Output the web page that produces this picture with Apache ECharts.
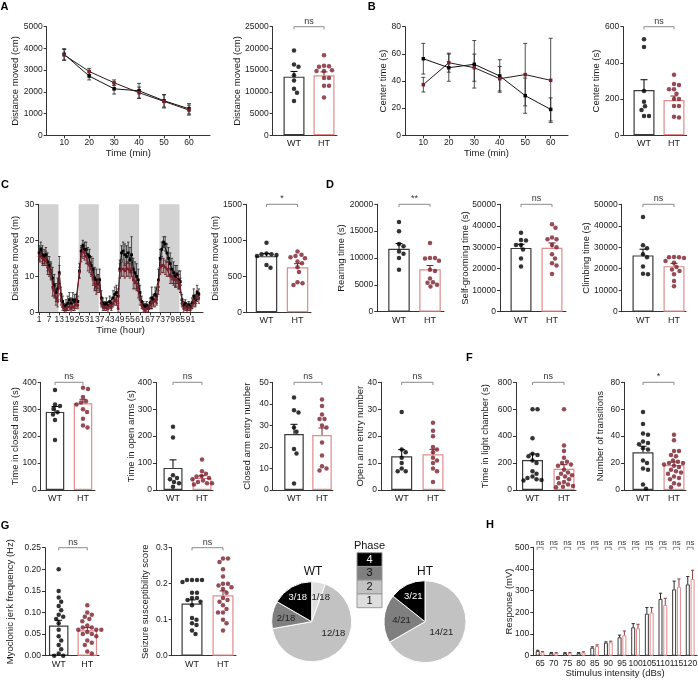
<!DOCTYPE html>
<html>
<head>
<meta charset="utf-8">
<script src="https://cdn.jsdelivr.net/npm/echarts@6/dist/echarts.min.js"></script>
<style>
html, body { margin: 0; padding: 0; background: #fff; }
#main { width: 698px; height: 680px; }
</style>
</head>
<body>
<div id="main"></div>
<script>
var FONT = '"Liberation Sans", Arial, sans-serif';
var WT_DOT = '#000000', HT_DOT = '#7b1f2c';
var WT_EDGE = '#3a3a3a', HT_EDGE = '#e08c8c';
var AXIS = '#333333', TEXT = '#1a1a1a', BRACKET = '#8a8a8a';
var groups = ['WT', 'HT'];

// A - open field, distance per 10 min
var timeMin = [10, 20, 30, 40, 50, 60];
var aLineWT = [3730, 2730, 2140, 2050, 1590, 1220];
var aLineHT = [3700, 2940, 2420, 1960, 1560, 1160];
var aLineWTErr = [260, 180, 240, 340, 290, 240];
var aLineHTErr = [250, 140, 130, 260, 300, 230];
var aBarWT = [19500, 16300, 15800, 13800, 12600, 10700, 9800, 7900];
var aBarHT = [18400, 16000, 15900, 15800, 15000, 14800, 14800, 13200, 13200, 11400, 11400, 8700];
var aBarMean = [13500, 13800];
var aBarSem = [1200, 800];

// B - center time
var bLineWT = [56.4, 49.8, 52.3, 43.7, 29.2, 19.1];
var bLineHT = [37.3, 53.5, 49.8, 41.7, 44.7, 40.5];
var bLineWTErr = [11.3, 10, 17.5, 12, 13, 8.5];
var bLineHTErr = [5.4, 7, 10, 9, 23, 31];
var bBarWT = [530, 488, 245, 186, 160, 140, 107, 107];
var bBarHT = [335, 283, 278, 254, 254, 230, 200, 200, 162, 162, 103, 99];
var bBarMean = [250, 195];
var bBarSem = [57, 22];

// C - home cage activity, hourly
var cHourTicks = [1, 7, 13, 19, 25, 31, 37, 43, 49, 55, 61, 67, 73, 79, 85, 91];
var cDarkPhases = [[0.5, 12.5], [24.5, 36.5], [48.5, 60.5], [72.5, 84.5]];
var cWT = [16.5, 17.5, 16, 15.5, 16, 14, 13, 11.5, 9.5, 7.5, 5.5, 6.5,
  11, 5, 3, 1.5, 2, 2.5, 3.5, 2.5, 3.5, 3, 3.5, 3,
  11.5, 17, 18.5, 17.5, 17.5, 16, 15.5, 13, 12, 9.5, 9, 8,
  9, 4, 2.5, 2, 2.5, 2, 3, 2.5, 4, 5, 5.5, 4.5,
  12, 16.5, 17, 16, 15.5, 16.5, 14.5, 16, 12, 11, 10, 9,
  5.5, 3, 2, 1.5, 2, 1, 2.5, 4, 3.5, 5, 4.5, 9,
  15, 17.5, 19.5, 19, 16.5, 15, 13.5, 12, 11, 10, 10.5, 9,
  8.5, 3.5, 2, 2.5, 1.5, 2, 1.5, 2.5, 4.5, 3.5, 5.5, 5];
var cHT = [15.5, 16, 15, 14.5, 15, 12.5, 12, 11.5, 7, 6, 4, 3,
  10.5, 3.5, 1.5, 1, 1, 1.5, 1.5, 1, 1.5, 1.5, 2, 2,
  11, 16, 17, 16.5, 15.5, 13.5, 13, 12, 9.5, 8, 7, 8.5,
  7.5, 2.5, 1.5, 1.5, 1.5, 1, 2, 1.5, 2.5, 3.5, 3, 1,
  11.5, 12, 12, 11.5, 12, 12, 11.5, 12, 9, 8.5, 8, 6,
  3.5, 2, 1, 0.5, 1, 1, 2, 2.5, 3, 3, 3.5, 7,
  12.5, 13, 13, 12.5, 12, 12, 10, 10, 9.5, 9, 9, 8.5,
  7.5, 2.5, 1, 1.5, 1, 1.5, 1, 2, 3, 2.5, 4.5, 4];
var cWTErr = [2, 2, 2.5, 2, 2, 2.5, 2.5, 2.5, 3, 3, 2.5, 3,
  4.5, 2, 1.5, 1, 1.5, 2, 2, 1.5, 2, 2, 1.5, 1.5,
  2, 1.5, 1.5, 2, 2, 2, 2, 2.5, 3, 3, 3, 2.5,
  3, 2, 1.5, 1, 1.5, 1, 1.5, 1.5, 2, 2, 2, 2,
  2.5, 2, 2.5, 3, 3, 3, 3.5, 5, 3, 3, 3.5, 3,
  2, 1.5, 1, 1, 1, 1, 1.5, 3, 1.5, 2, 2, 3,
  2.5, 2, 1.5, 2, 2.5, 3, 3, 3, 3, 3, 2.5, 2.5,
  3, 1.5, 1, 1, 1, 1, 1, 1.5, 2, 1.5, 2, 1.5];
var cHTErr = [1.5, 2, 2, 1.5, 2, 2, 2, 2, 2.5, 2, 2, 1.5,
  2.5, 1.5, 1, 1, 1, 1, 1, 1, 1, 1, 1, 1,
  1.5, 2, 2, 2, 2, 2, 2, 2, 2, 2, 2, 2,
  2, 1, 1, 1, 1, 1, 1, 1, 1, 1.5, 1, 1,
  2, 2, 2, 2, 2, 2, 2, 2, 2.5, 2, 2, 2,
  1.5, 1, 1, 0.5, 1, 1, 1, 1.5, 1.5, 1.5, 1.5, 2,
  2, 2, 2, 2, 2, 2, 2, 2, 2, 2, 2, 2,
  2, 1, 1, 1, 1, 1, 1, 1, 1.5, 1, 1.5, 1.5];
var cBarWT = [965, 815, 806, 806, 796, 782, 657, 620];
var cBarHT = [843, 800, 782, 764, 750, 705, 680, 625, 560, 417, 403, 380];
var cBarMean = [780, 625];
var cBarSem = [35, 50];

// D - rearing, self-grooming, climbing
var dRearWT = [16700, 15000, 12600, 12200, 11200, 10800, 10000, 7800];
var dRearHT = [12800, 10000, 10000, 9900, 9500, 7800, 7600, 6200, 5500, 5400, 5000, 4700];
var dRearMean = [11700, 7900];
var dRearSem = [1000, 700];
var dGroomWT = [36800, 33400, 33100, 31100, 31100, 29000, 24800, 21000];
var dGroomHT = [40700, 39100, 34600, 33700, 33700, 31000, 30000, 26700, 24800, 22500, 21500, 17500];
var dGroomMean = [29700, 29800];
var dGroomSem = [1700, 2200];
var dClimbWT = [44100, 30900, 29500, 26700, 25300, 21000, 17700, 17400];
var dClimbHT = [25500, 25300, 25300, 25000, 23600, 22800, 20800, 19700, 19000, 17400, 14300, 11800];
var dClimbMean = [26200, 21200];
var dClimbSem = [2900, 1300];

// E - elevated plus maze
var eClosedWT = [371, 318, 312, 301, 289, 280, 260, 186];
var eClosedHT = [380, 375, 345, 330, 325, 318, 300, 290, 265, 240, 232];
var eClosedMean = [290, 322];
var eClosedSem = [20, 15];
var eOpenWT = [235, 195, 55, 45, 40, 30, 25, 12];
var eOpenHT = [113, 70, 60, 52, 50, 45, 40, 35, 30, 25, 25, 20];
var eOpenMean = [82, 45];
var eOpenSem = [30, 8];
var eClosedEntWT = [43, 37, 36, 29, 27, 19, 17, 3];
var eClosedEntHT = [42, 39, 35, 33, 33, 30, 29, 22, 16, 11, 10, 9];
var eClosedEntMean = [26, 25.5];
var eClosedEntSem = [4.5, 3.3];
var eOpenEntWT = [29, 15, 14, 12, 10, 8, 7, 7];
var eOpenEntHT = [25, 22, 20, 16, 15, 14, 12, 11, 10, 8, 7, 3];
var eOpenEntMean = [12.5, 13.3];
var eOpenEntSem = [2.5, 1.8];

// F - light/dark box
var fLightWT = [600, 600, 385, 270, 260, 250, 220, 200, 140, 120, 100, 90, 80, 75, 70];
var fLightHT = [600, 330, 290, 240, 210, 200, 190, 180, 150, 130, 120, 110, 100, 90, 80, 60, 50, 40, 30, 25, 20];
var fLightMean = [222, 158];
var fLightSem = [45, 30];
var fTransWT = [58, 49, 42, 41, 36, 35, 34, 31, 30, 22, 20, 16, 15, 4, 1];
var fTransHT = [41, 37, 29, 29, 26, 25, 22, 21, 20, 20, 19, 18, 17, 15, 14, 13, 12, 10, 9, 8, 5, 4, 2];
var fTransMean = [28, 18.5];
var fTransSem = [4.5, 2.3];

// G - seizures
var gJerkWT = [0.20, 0.15, 0.135, 0.125, 0.115, 0.105, 0.095, 0.09, 0.085, 0.075, 0.06, 0.045, 0.035, 0.025, 0.015, 0.005, 0, 0];
var gJerkHT = [0.117, 0.1, 0.095, 0.09, 0.085, 0.08, 0.07, 0.065, 0.065, 0.06, 0.06, 0.06, 0.055, 0.05, 0.05, 0.045, 0.035, 0.03, 0.025, 0.01, 0.005];
var gJerkMean = [0.07, 0.059];
var gJerkSem = [0.012, 0.006];
var gScoreWT = [0.21, 0.21, 0.21, 0.21, 0.205, 0.175, 0.175, 0.16, 0.16, 0.155, 0.15, 0.14, 0.105, 0.1, 0.09, 0.085, 0.07, 0.06];
var gScoreHT = [0.27, 0.27, 0.26, 0.24, 0.22, 0.2, 0.2, 0.195, 0.19, 0.185, 0.175, 0.16, 0.155, 0.15, 0.14, 0.13, 0.12, 0.12, 0.1, 0.09, 0.07];
var gScoreMean = [0.145, 0.168];
var gScoreSem = [0.01, 0.012];
var phaseNames = ['1', '2', '3', '4'];
var wtPhaseCounts = [1, 12, 2, 3];
var htPhaseCounts = [0, 14, 4, 3];

// H - acoustic startle
var hIntensity = ['65', '70', '75', '80', '85', '90', '95', '100', '105', '110', '115', '120'];
var hWT = [22, 13, 12, 13, 37, 60, 85, 131, 194, 262, 306, 329];
var hHT = [16, 12, 13, 15, 45, 62, 94, 126, 200, 234, 318, 354];
var hWTErr = [3, 2, 2, 2, 4, 4, 10, 17, 28, 26, 38, 36];
var hHTErr = [3, 2, 2, 3, 5, 5, 20, 19, 22, 31, 36, 40];

var phaseColors = ['#dedede', '#c2c2c2', '#7f7f7f', '#000000'];

var grids = [], xAxes = [], yAxes = [], series = [];

function addGrid(box) {
    grids.push({left: box[0], top: box[1], width: box[2] - box[0], height: box[3] - box[1],
        outerBoundsMode: 'none', containLabel: false});
    return grids.length - 1;
}

function addYAxis(gi, max, step, name, gap, digits) {
    yAxes.push({
        gridIndex: gi, type: 'value', min: 0, max: max, interval: step,
        name: name, nameLocation: 'middle', nameGap: gap, nameMoveOverlap: false,
        nameTextStyle: {fontFamily: FONT, fontSize: 9.5, color: TEXT},
        axisLine: {show: true, onZero: false, lineStyle: {color: AXIS, width: 1}},
        axisTick: {show: true, length: 3, lineStyle: {color: AXIS}},
        axisLabel: {fontFamily: FONT, fontSize: 8.5, color: TEXT, margin: 4,
            formatter: function (v) { return digits == null ? String(v) : v.toFixed(digits); }},
        splitLine: {show: false}
    });
    return yAxes.length - 1;
}

// simple beeswarm so dots with close values spread sideways (px offsets)
function swarm(values, pxPerVal, diam) {
    var order = values.map(function (v, i) { return i; })
        .sort(function (a, b) { return values[b] - values[a]; });
    var placed = [], offs = [];
    order.forEach(function (i) {
        var y = values[i] * pxPerVal;
        for (var k = 0; k < 400; k++) {
            var off = (k % 2 ? 1 : -1) * Math.ceil(k / 2) * 0.5;
            var ok = placed.every(function (p) {
                var dx = p[0] - off, dy = p[1] - y;
                return dx * dx + dy * dy >= diam * diam;
            });
            if (ok) { offs[i] = off; placed.push([off, y]); break; }
        }
    });
    return offs;
}

function bracketSeries(xi, yi, pairs, label, half, fontSize) {
    return {
        type: 'custom', xAxisIndex: xi, yAxisIndex: yi, silent: true, z: 5,
        data: pairs,
        renderItem: function (params, api) {
            var p0 = api.coord([api.value(0), api.value(2)]);
            var p1 = api.coord([api.value(1), api.value(2)]);
            var x0 = p0[0] - half, x1 = p1[0] + half, y = p0[1];
            return {type: 'group', children: [
                {type: 'polyline', shape: {points: [[x0, y + 2.7], [x0, y], [x1, y], [x1, y + 2.7]]},
                    style: {stroke: BRACKET, fill: null, lineWidth: 1}},
                {type: 'text', style: {text: label, x: (x0 + x1) / 2, y: y - 1, textAlign: 'center',
                    textVerticalAlign: 'bottom', font: fontSize + 'px ' + FONT, fill: '#333'}}
            ]};
        }
    };
}

function addDotPanel(p) {
    var gi = addGrid(p.box);
    var unit = p.c[1] - p.c[0];
    xAxes.push({
        gridIndex: gi, type: 'value',
        min: -(p.c[0] - p.box[0]) / unit, max: 1 + (p.box[2] - p.c[1]) / unit,
        axisLine: {show: true, onZero: false, lineStyle: {color: AXIS}},
        axisTick: {show: false}, splitLine: {show: false},
        axisLabel: {customValues: [0, 1], fontFamily: FONT, fontSize: 9, color: TEXT, margin: 4,
            formatter: function (v) { return groups[Math.round(v)]; }}
    });
    var xi = xAxes.length - 1;
    var yi = addYAxis(gi, p.max, p.step, p.name, p.gap, p.digits);
    var pxPerVal = (p.box[3] - p.box[1]) / p.max;

    series.push({
        type: 'bar', xAxisIndex: xi, yAxisIndex: yi, barWidth: p.bw, silent: true, z: 1,
        itemStyle: {color: '#ffffff', borderWidth: 1.2},
        data: [{value: [0, p.mean[0]], itemStyle: {borderColor: WT_EDGE}},
               {value: [1, p.mean[1]], itemStyle: {borderColor: HT_EDGE}}]
    });
    series.push({
        type: 'custom', xAxisIndex: xi, yAxisIndex: yi, silent: true, z: 3,
        data: [[0, p.mean[0], p.sem[0]], [1, p.mean[1], p.sem[1]]],
        renderItem: function (params, api) {
            var col = params.dataIndex ? HT_DOT : WT_DOT;
            var top = api.coord([api.value(0), api.value(1) + api.value(2)]);
            var base = api.coord([api.value(0), api.value(1)]);
            return {type: 'group', children: [
                {type: 'line', shape: {x1: top[0], y1: top[1], x2: base[0], y2: base[1]}, style: {stroke: col, lineWidth: 1}},
                {type: 'line', shape: {x1: top[0] - 3.5, y1: top[1], x2: top[0] + 3.5, y2: top[1]}, style: {stroke: col, lineWidth: 1}}
            ]};
        }
    });
    [p.wt, p.ht].forEach(function (vals, g) {
        var offs = swarm(vals, pxPerVal, 4.8);
        series.push({
            type: 'scatter', xAxisIndex: xi, yAxisIndex: yi, silent: true, z: 4,
            symbol: 'circle', symbolSize: 4.5,
            itemStyle: {color: g ? HT_DOT : WT_DOT},
            data: vals.map(function (v, i) { return {value: [g, v], symbolOffset: [offs[i], 0]}; })
        });
    });
    series.push(bracketSeries(xi, yi, [[0, 1, p.max]], p.sig, 0, 9));
}

function errSeries(xi, yi, data, color, cap, z) {
    return {
        type: 'custom', xAxisIndex: xi, yAxisIndex: yi, silent: true, z: z,
        data: data,
        renderItem: function (params, api) {
            var x = api.value(0), m = api.value(1), e = api.value(2);
            var top = api.coord([x, m + e]);
            var bot = api.coord([x, Math.max(0, m - e)]);
            return {type: 'group', children: [
                {type: 'line', shape: {x1: top[0], y1: top[1], x2: bot[0], y2: bot[1]}, style: {stroke: color, lineWidth: 0.8}},
                {type: 'line', shape: {x1: top[0] - cap, y1: top[1], x2: top[0] + cap, y2: top[1]}, style: {stroke: color, lineWidth: 0.8}},
                {type: 'line', shape: {x1: bot[0] - cap, y1: bot[1], x2: bot[0] + cap, y2: bot[1]}, style: {stroke: color, lineWidth: 0.8}}
            ]};
        }
    };
}

function addLinePanel(p) {
    var gi = addGrid(p.box);
    xAxes.push({
        gridIndex: gi, type: 'value', min: p.xmin, max: p.xmax,
        name: p.xname, nameLocation: 'middle', nameGap: p.xgap, nameMoveOverlap: false,
        nameTextStyle: {fontFamily: FONT, fontSize: 9.5, color: TEXT},
        axisLine: {show: true, onZero: false, lineStyle: {color: AXIS}},
        axisTick: {show: true, length: 3, customValues: p.ticks, lineStyle: {color: AXIS}},
        axisLabel: {customValues: p.ticks, fontFamily: FONT, fontSize: 8.5, color: TEXT, margin: 3},
        splitLine: {show: false}
    });
    var xi = xAxes.length - 1;
    var yi = addYAxis(gi, p.max, p.step, p.name, p.gap);
    if (p.bands) {
        series.push({
            type: 'custom', xAxisIndex: xi, yAxisIndex: yi, silent: true, z: 0,
            data: p.bands,
            renderItem: function (params, api) {
                var a = api.coord([api.value(0), p.max]);
                var b = api.coord([api.value(1), 0]);
                return {type: 'rect', shape: {x: a[0], y: a[1], width: b[0] - a[0], height: b[1] - a[1]},
                    style: {fill: '#d2d2d2'}};
            }
        });
    }
    var sets = [
        {vals: p.wt, err: p.wtErr, color: WT_DOT, line: '#111111', symbol: 'rect', errColor: '#222222'},
        {vals: p.ht, err: p.htErr, color: HT_DOT, line: p.htLine, symbol: p.htSymbol, errColor: p.htErrColor}
    ];
    sets.forEach(function (s, k) {
        series.push(errSeries(xi, yi, s.vals.map(function (v, i) { return [p.x(i), v, s.err[i]]; }),
            s.errColor, p.cap, 2 + k));
        series.push({
            type: 'line', xAxisIndex: xi, yAxisIndex: yi, silent: true, z: 4 + k,
            symbol: s.symbol, symbolSize: p.sym, showSymbol: true,
            itemStyle: {color: s.color}, lineStyle: {color: s.line, width: 1},
            data: s.vals.map(function (v, i) { return [p.x(i), v]; })
        });
    });
}

// ---------- line panels ----------
addLinePanel({box: [46.7, 26.7, 210, 135.3], xmin: 3, xmax: 68.4, ticks: timeMin,
    x: function (i) { return timeMin[i]; }, xname: 'Time (min)', xgap: 13,
    max: 5000, step: 1000, name: 'Distance moved (cm)', gap: 26.5,
    wt: aLineWT, ht: aLineHT, wtErr: aLineWTErr, htErr: aLineHTErr,
    htLine: '#2a1a1c', htSymbol: 'rect', htErrColor: '#222222', cap: 2, sym: 3.5});
addLinePanel({box: [405, 26.7, 568, 135.3], xmin: 2.8, xmax: 66.8, ticks: timeMin,
    x: function (i) { return timeMin[i]; }, xname: 'Time (min)', xgap: 13,
    max: 80, step: 20, name: 'Center time (s)', gap: 16.5,
    wt: bLineWT, ht: bLineHT, wtErr: bLineWTErr, htErr: bLineHTErr,
    htLine: '#2a1a1c', htSymbol: 'rect', htErrColor: '#222222', cap: 2, sym: 3.5});
addLinePanel({box: [38.3, 204.3, 203, 312.3], xmin: 0.5, xmax: 98.5, ticks: cHourTicks,
    x: function (i) { return i + 1; }, xname: 'Time (hour)', xgap: 13, bands: cDarkPhases,
    max: 30, step: 10, name: 'Distance moved (m)', gap: 18,
    wt: cWT, ht: cHT, wtErr: cWTErr, htErr: cHTErr,
    htLine: '#7b1f2c', htSymbol: 'circle', htErrColor: '#5a1a22', cap: 1.2, sym: 2.8});

// ---------- dot + bar panels ----------
var dotPanels = [
    {box: [272.7, 26.7, 337, 135.3], c: [294, 324], bw: 21, max: 25000, step: 5000, name: 'Distance moved (cm)', gap: 30,
        wt: aBarWT, ht: aBarHT, mean: aBarMean, sem: aBarSem, sig: 'ns'},
    {box: [623.3, 26.7, 686.7, 135.3], c: [644, 674], bw: 21, max: 600, step: 200, name: 'Center time (s)', gap: 21.5,
        wt: bBarWT, ht: bBarHT, mean: bBarMean, sem: bBarSem, sig: 'ns'},
    {box: [246, 204.3, 311, 312.3], c: [266.5, 297.5], bw: 21.5, max: 1500, step: 500, name: 'Distance moved (m)', gap: 25.5,
        wt: cBarWT, ht: cBarHT, mean: cBarMean, sem: cBarSem, sig: '*'},
    {box: [377.3, 204.3, 444, 311.7], c: [399, 430], bw: 21.5, max: 20000, step: 5000, name: 'Rearing time (s)', gap: 31,
        wt: dRearWT, ht: dRearHT, mean: dRearMean, sem: dRearSem, sig: '**'},
    {box: [500, 204.3, 566, 311.7], c: [521, 552], bw: 21, max: 50000, step: 10000, name: 'Self-grooming time (s)', gap: 29.5,
        wt: dGroomWT, ht: dGroomHT, mean: dGroomMean, sem: dGroomSem, sig: 'ns'},
    {box: [621.7, 204.3, 686, 311.7], c: [643, 674], bw: 21, max: 50000, step: 10000, name: 'Climbing time (s)', gap: 30,
        wt: dClimbWT, ht: dClimbHT, mean: dClimbMean, sem: dClimbSem, sig: 'ns'},
    {box: [40.7, 382.3, 95, 490], c: [55, 83], bw: 18.5, max: 400, step: 100, name: 'Time in closed arms (s)', gap: 20.5,
        wt: eClosedWT, ht: eClosedHT, mean: eClosedMean, sem: eClosedSem, sig: 'ns'},
    {box: [156, 382.3, 213, 490], c: [173, 202], bw: 19, max: 400, step: 100, name: 'Time in open arms (s)', gap: 20,
        wt: eOpenWT, ht: eOpenHT, mean: eOpenMean, sem: eOpenSem, sig: 'ns'},
    {box: [272.7, 382.3, 333, 490], c: [294, 322], bw: 19.5, max: 50, step: 10, name: 'Closed arm entry number', gap: 20,
        wt: eClosedEntWT, ht: eClosedEntHT, mean: eClosedEntMean, sem: eClosedEntSem, sig: 'ns'},
    {box: [381, 382.3, 445, 490], c: [401.7, 433], bw: 21, max: 40, step: 10, name: 'Open arm entry number', gap: 16,
        wt: eOpenEntWT, ht: eOpenEntHT, mean: eOpenEntMean, sem: eOpenEntSem, sig: 'ns'},
    {box: [516, 382.3, 576, 490], c: [532.5, 564], bw: 21, max: 800, step: 200, name: 'Time in light chamber (s)', gap: 25.5,
        wt: fLightWT, ht: fLightHT, mean: fLightMean, sem: fLightSem, sig: 'ns'},
    {box: [624, 382.3, 686, 490], c: [643, 674], bw: 21, max: 80, step: 20, name: 'Number of transitions', gap: 19,
        wt: fTransWT, ht: fTransHT, mean: fTransMean, sem: fTransSem, sig: '*'},
    {box: [45, 547.7, 99, 655.7], c: [58.7, 87.3], bw: 19.5, max: 0.25, step: 0.05, digits: 2, name: 'Myoclonic jerk frequency (Hz)', gap: 29.5,
        wt: gJerkWT, ht: gJerkHT, mean: gJerkMean, sem: gJerkSem, sig: 'ns'},
    {box: [171.7, 547.7, 236, 655.7], c: [192, 223], bw: 21, max: 0.3, step: 0.1, digits: 1, name: 'Seizure susceptibility score', gap: 21,
        wt: gScoreWT, ht: gScoreHT, mean: gScoreMean, sem: gScoreSem, sig: 'ns'}
];
dotPanels.forEach(addDotPanel);

// ---------- H: startle response ----------
var hGrid = addGrid([533.3, 547.3, 697, 655.7]);
xAxes.push({
    gridIndex: hGrid, type: 'category', data: hIntensity, boundaryGap: true,
    name: 'Stimulus intensity (dBs)', nameLocation: 'middle', nameGap: 12.5, nameMoveOverlap: false,
    nameTextStyle: {fontFamily: FONT, fontSize: 9.5, color: TEXT},
    axisLine: {show: true, onZero: false, lineStyle: {color: AXIS}},
    axisTick: {show: false},
    axisLabel: {interval: 0, fontFamily: FONT, fontSize: 8.5, color: TEXT, margin: 3}
});
var hX = xAxes.length - 1;
var hY = addYAxis(hGrid, 500, 100, 'Response (mV)', 19);
[{vals: hWT, err: hWTErr, edge: WT_EDGE, errCol: '#2a2a2a', dx: -2.4},
 {vals: hHT, err: hHTErr, edge: HT_EDGE, errCol: '#8a3f3f', dx: 2.4}].forEach(function (s) {
    series.push({
        type: 'bar', xAxisIndex: hX, yAxisIndex: hY, barWidth: 4, barGap: '20%', silent: true, z: 2,
        itemStyle: {color: '#ffffff', borderColor: s.edge, borderWidth: 1},
        data: s.vals
    });
    series.push({
        type: 'custom', xAxisIndex: hX, yAxisIndex: hY, silent: true, z: 3,
        data: s.vals.map(function (v, i) { return [i, v, s.err[i]]; }),
        renderItem: function (params, api) {
            var top = api.coord([api.value(0), api.value(1) + api.value(2)]);
            var base = api.coord([api.value(0), api.value(1)]);
            var x = top[0] + s.dx;
            return {type: 'group', children: [
                {type: 'line', shape: {x1: x, y1: top[1], x2: x, y2: base[1]}, style: {stroke: s.errCol, lineWidth: 1}},
                {type: 'line', shape: {x1: x - 1.6, y1: top[1], x2: x + 1.6, y2: top[1]}, style: {stroke: s.errCol, lineWidth: 1}}
            ]};
        }
    });
});
series.push(bracketSeries(hX, hY, hIntensity.map(function (c, i) { return [i, i, 500]; }), 'ns', 3, 8));

// ---------- G: seizure phase pies ----------
function pieSeries(counts, center, r, nudges) {
    var total = counts.reduce(function (a, b) { return a + b; }, 0);
    var data = [];
    counts.forEach(function (c, i) {
        if (c > 0) {
            data.push({value: c, name: 'Phase ' + phaseNames[i], itemStyle: {color: phaseColors[i]},
                label: {color: i === 3 ? '#ffffff' : '#222222'}, nudge: nudges[i]});
        }
    });
    return {
        type: 'pie', center: center, radius: r, startAngle: 90, clockwise: true, silent: true,
        avoidLabelOverlap: false,
        itemStyle: {borderColor: '#ffffff', borderWidth: 1},
        label: {show: true, position: 'inside', fontFamily: FONT, fontSize: 9.5,
            formatter: function (pr) { return pr.value + '/' + total; }},
        labelLine: {show: false},
        labelLayout: function (params) {
            var n = data[params.dataIndex].nudge;
            return {dx: n[0], dy: n[1]};
        },
        data: data
    };
}
// label nudges per phase (px), purely cosmetic
series.push(pieSeries(wtPhaseCounts, [311.7, 621.7], 40, [[5, -2], [7, -6], [-3, 1], [-2.5, -4.5]]));
series.push(pieSeries(htPhaseCounts, [425, 621.7], 41, [[0, 0], [-4, -1], [0, 0], [-1.5, -4.5]]));

// ---------- text & legend ----------
var graphics = [];
[['A', 4.5, 7], ['B', 371.7, 6.5], ['C', 5, 185], ['D', 330, 185], ['E', 5, 358],
 ['F', 469.3, 358.3], ['G', 5, 525.7], ['H', 490, 525]].forEach(function (t) {
    graphics.push({type: 'text', silent: true, style: {text: t[0], x: t[1], y: t[2], textAlign: 'center',
        textVerticalAlign: 'middle', font: 'bold 11px ' + FONT, fill: '#000'}});
});
[['WT', 313, 572], ['HT', 425, 572]].forEach(function (t) {
    graphics.push({type: 'text', silent: true, style: {text: t[0], x: t[1], y: t[2], textAlign: 'center',
        textVerticalAlign: 'middle', font: '12px ' + FONT, fill: '#111'}});
});
graphics.push({type: 'text', silent: true, style: {text: 'Phase', x: 369.5, y: 546, textAlign: 'center',
    textVerticalAlign: 'middle', font: '11px ' + FONT, fill: '#111'}});
for (var k = 3; k >= 0; k--) {
    var row = 3 - k, y0 = 552.7 + row * 13.75;
    graphics.push({type: 'rect', silent: true, shape: {x: 357, y: y0, width: 25, height: 13.75},
        style: {fill: phaseColors[k], stroke: '#9a9a9a', lineWidth: 1}});
    graphics.push({type: 'text', silent: true, style: {text: phaseNames[k], x: 369.5, y: y0 + 7,
        textAlign: 'center', textVerticalAlign: 'middle', font: '11px ' + FONT,
        fill: k === 3 ? '#ffffff' : '#111'}});
}

var chart = echarts.init(document.getElementById('main'));
chart.setOption({
    animation: false,
    backgroundColor: '#ffffff',
    grid: grids,
    xAxis: xAxes,
    yAxis: yAxes,
    series: series,
    graphic: graphics
});
</script>
</body>
</html>
